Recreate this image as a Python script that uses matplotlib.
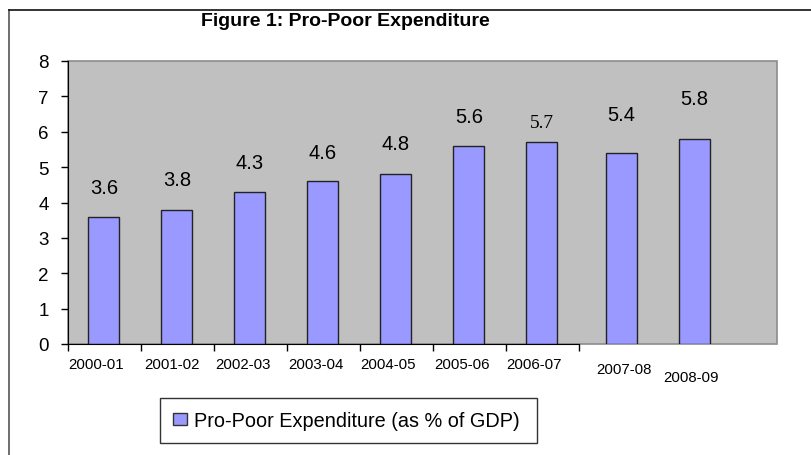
import matplotlib
matplotlib.use("Agg")
import matplotlib.pyplot as plt
import numpy as np
from matplotlib.lines import Line2D
from matplotlib.patches import Patch, Rectangle

# data
years = ["2000-01", "2001-02", "2002-03", "2003-04", "2004-05",
         "2005-06", "2006-07", "2007-08", "2008-09"]
values = [3.6, 3.8, 4.3, 4.6, 4.8, 5.6, 5.7, 5.4, 5.8]
series_name = "Pro-Poor Expenditure (as % of GDP)"

# layout tweaks (the original is a hand-edited spreadsheet chart)
x = np.arange(len(years)) + 0.49
x[7:] += 0.09
label_offsets = [21, 21.5, 21.5, 21, 22, 21, 14, 27.5, 29]   # points above bar
tick_shift = [-0.11, -0.07, -0.1, -0.1, -0.1, -0.09, -0.1, 0.04, -0.05]
tick_drop = [0, 0, 0, 0, 0, 0, 0, 5, 13]                      # pixels

plt.rcParams["font.family"] = ["Liberation Sans", "DejaVu Sans"]

W, H = 812, 456
fig = plt.figure(figsize=(W / 100, H / 100), dpi=100)
ax = fig.add_axes([68 / W, 111 / H, 709 / W, 283 / H])
ax.set_xlim(0, 709 / 73)
ax.set_ylim(0, 8)
ax.set_facecolor("#C0C0C0")

# plot area outline in grey, axis lines in black
ax.add_patch(Rectangle((0, 0), 1, 1, transform=ax.transAxes, fill=False,
                       edgecolor="#8C8C8C", lw=1.2, zorder=0.5, clip_on=False))
for s in ["top", "right"]:
    ax.spines[s].set_visible(False)
ax.spines["left"].set_color("black")
ax.spines["bottom"].set_color("black")
ax.spines["bottom"].set_bounds(0, 7)

ax.bar(x, values, width=0.42, color="#9999FF", edgecolor="#222222",
       linewidth=1, zorder=2)

for i, v in enumerate(values):
    if years[i] == "2006-07":
        ax.annotate(f"{v}", (x[i], v), xytext=(0, label_offsets[i]),
                    textcoords="offset points", ha="center", va="center",
                    fontsize=14, family="Liberation Serif")
    else:
        ax.annotate(f"{v}", (x[i], v), xytext=(0, label_offsets[i]),
                    textcoords="offset points", ha="center", va="center",
                    fontsize=14.5)

ax.set_yticks(range(0, 9))
ax.tick_params(axis="y", labelsize=13.5, length=5, width=1, pad=9)
ax.set_xticks(range(0, 8))
ax.set_xticklabels([])
ax.tick_params(axis="x", length=5, width=1)

for i, lab in enumerate(years):
    ax.annotate(lab, (x[i] + tick_shift[i], 0),
                xytext=(0, -14.5 - tick_drop[i] * 0.72),
                textcoords="offset points", ha="center", va="center",
                fontsize=10.8, annotation_clip=False)

fig.text(345 / W, 1 - 22 / H, "Figure 1: Pro-Poor Expenditure",
         ha="center", va="center", fontsize=14, fontweight="bold")

fig.legend(handles=[Patch(facecolor="#9999FF", edgecolor="#333333", lw=1)],
           labels=[series_name], loc="center",
           bbox_to_anchor=(160 / W, 9 / H, 377 / W, 51 / H), mode="expand",
           borderaxespad=0, frameon=True, fancybox=False, framealpha=1,
           edgecolor="#333333", fontsize=14.3, handlelength=0.7,
           handleheight=0.6, handletextpad=0.35, borderpad=0.65)

# outer frame (left and top edges only are visible)
fig.add_artist(Line2D([9 / W, 9 / W], [0, 1 - 10.5 / H], color="#555555", lw=1.2))
fig.add_artist(Line2D([9 / W, 1], [1 - 10.5 / H, 1 - 10.5 / H], color="#111111", lw=1.2))

fig.savefig("out.png", dpi=100)
